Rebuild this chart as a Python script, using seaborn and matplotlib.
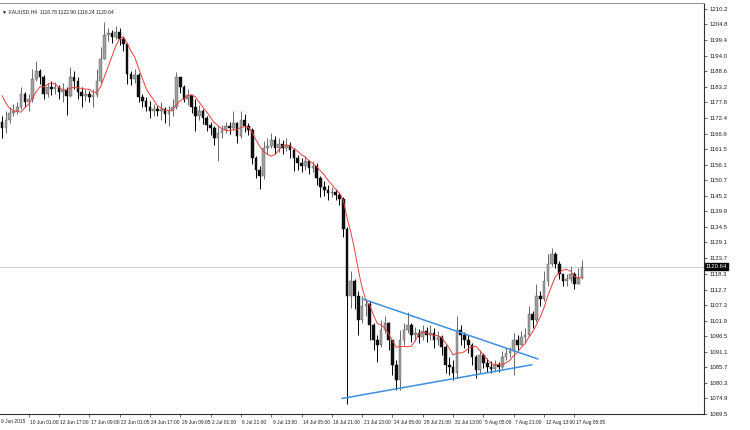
import numpy as np
import pandas as pd
import matplotlib
matplotlib.use('Agg')
import matplotlib.pyplot as plt
import matplotlib.transforms as mtransforms
import seaborn as sns

# XAUUSD H4 candles (each entry here = 2 H4 bars of the screenshot)
close = [
    1168.8, 1171.5, 1173.9, 1174.9, 1176.3, 1180.7, 1178.0, 1179.0, 1185.9, 1188.6,
    1186.6, 1180.7, 1183.1, 1182.5, 1183.1, 1181.4, 1182.1, 1180.1, 1186.6, 1185.2,
    1181.4, 1180.1, 1180.7, 1179.7, 1180.4, 1185.2, 1192.7, 1201.3, 1202.0, 1200.3,
    1202.3, 1199.6, 1197.9, 1187.6, 1185.9, 1187.3, 1179.7, 1178.3, 1176.3, 1174.9,
    1175.3, 1174.6, 1175.6, 1173.6, 1174.9, 1176.3, 1186.6, 1183.1, 1179.0, 1180.4,
    1176.3, 1172.9, 1174.9, 1172.2, 1169.8, 1168.8, 1165.3, 1167.0, 1168.1, 1169.4,
    1168.8, 1170.5, 1166.0, 1171.5, 1169.4, 1168.1, 1158.5, 1154.4, 1152.3, 1161.9,
    1162.6, 1164.6, 1161.9, 1163.3, 1161.9, 1162.9, 1161.2, 1158.5, 1156.8, 1155.7,
    1157.5, 1155.1, 1155.7, 1151.6, 1148.2, 1147.2, 1146.2, 1146.5, 1145.5, 1144.1,
    1133.8, 1110.5, 1115.7, 1110.5, 1102.0, 1107.1, 1107.8, 1100.3, 1095.1, 1093.4,
    1098.6, 1101.0, 1095.1, 1086.6, 1081.4, 1095.1, 1098.6, 1100.3, 1096.8, 1097.5,
    1096.2, 1098.2, 1096.8, 1097.5, 1095.1, 1096.2, 1092.7, 1086.6, 1085.9, 1083.8,
    1098.6, 1096.8, 1095.1, 1093.4, 1089.3, 1084.9, 1090.0, 1087.3, 1085.9, 1085.2,
    1086.6, 1085.9, 1089.3, 1090.7, 1091.4, 1095.1, 1093.4, 1096.2, 1096.8, 1104.4,
    1102.0, 1110.5, 1109.5, 1115.7, 1121.5, 1124.9, 1121.5, 1118.1, 1115.7, 1116.4,
    1118.1, 1114.6, 1116.78, 1120.64]
high = [
    1172.9, 1174.9, 1176.3, 1177.3, 1177.7, 1183.1, 1181.4, 1180.7, 1189.3, 1192.0,
    1189.3, 1187.3, 1184.5, 1185.2, 1184.9, 1183.8, 1184.5, 1183.1, 1190.0, 1188.6,
    1186.6, 1183.1, 1182.5, 1181.8, 1182.5, 1189.3, 1196.8, 1205.7, 1203.7, 1203.0,
    1204.4, 1203.7, 1200.3, 1198.2, 1188.6, 1189.3, 1187.9, 1180.7, 1179.7, 1178.3,
    1177.3, 1176.6, 1177.7, 1176.3, 1176.6, 1179.0, 1188.3, 1185.9, 1183.8, 1182.5,
    1180.4, 1179.0, 1177.0, 1175.6, 1172.9, 1170.8, 1169.4, 1169.4, 1169.8, 1170.8,
    1170.8, 1174.9, 1170.8, 1174.9, 1173.6, 1170.5, 1168.8, 1159.2, 1155.7, 1164.3,
    1165.3, 1167.0, 1166.0, 1165.3, 1164.6, 1165.3, 1164.0, 1161.9, 1159.5, 1158.5,
    1159.2, 1157.8, 1157.5, 1156.8, 1152.3, 1150.6, 1148.9, 1148.2, 1147.5, 1146.5,
    1144.8, 1134.5, 1119.1, 1116.4, 1112.3, 1110.5, 1109.5, 1108.8, 1101.0, 1096.8,
    1102.0, 1103.7, 1101.6, 1095.1, 1088.3, 1098.6, 1101.0, 1105.1, 1101.0, 1099.6,
    1098.9, 1100.3, 1099.6, 1100.3, 1099.2, 1098.2, 1096.8, 1093.4, 1089.3, 1088.3,
    1103.7, 1100.3, 1097.9, 1096.8, 1094.1, 1090.0, 1091.7, 1090.7, 1089.0, 1087.9,
    1088.3, 1087.6, 1091.4, 1092.4, 1092.7, 1097.5, 1096.8, 1098.2, 1099.2, 1107.1,
    1105.4, 1114.6, 1112.3, 1119.1, 1124.9, 1127.0, 1125.6, 1122.5, 1118.1, 1118.1,
    1120.8, 1118.8, 1120.1, 1122.90]
low = [
    1165.3, 1167.0, 1170.5, 1172.9, 1173.6, 1175.6, 1176.3, 1174.9, 1177.7, 1185.2,
    1184.2, 1179.0, 1179.7, 1180.4, 1180.7, 1179.0, 1178.0, 1173.2, 1179.7, 1182.5,
    1179.0, 1176.3, 1178.3, 1177.7, 1176.3, 1179.7, 1184.5, 1192.7, 1198.9, 1198.2,
    1199.6, 1197.5, 1195.5, 1184.2, 1183.8, 1184.5, 1177.7, 1176.3, 1174.6, 1172.2,
    1172.9, 1172.9, 1171.5, 1170.5, 1169.4, 1172.9, 1175.6, 1181.1, 1177.7, 1177.0,
    1173.9, 1167.7, 1171.5, 1170.1, 1167.7, 1166.4, 1162.9, 1157.5, 1165.3, 1167.0,
    1166.7, 1168.1, 1163.6, 1165.3, 1167.4, 1166.4, 1156.4, 1151.6, 1147.5, 1151.0,
    1159.9, 1161.9, 1159.9, 1160.5, 1159.9, 1160.9, 1158.5, 1154.0, 1154.4, 1153.4,
    1154.4, 1153.0, 1153.4, 1148.9, 1144.8, 1145.1, 1143.8, 1144.8, 1143.8, 1142.0,
    1131.1, 1072.9, 1106.4, 1106.1, 1096.8, 1101.0, 1103.7, 1095.1, 1091.7, 1087.6,
    1092.7, 1097.5, 1091.7, 1083.1, 1078.0, 1077.7, 1093.4, 1097.5, 1094.4, 1094.8,
    1094.1, 1095.1, 1094.4, 1095.1, 1092.4, 1093.4, 1090.0, 1083.8, 1083.1, 1081.4,
    1082.1, 1093.4, 1092.4, 1090.7, 1086.6, 1082.1, 1083.8, 1085.5, 1084.2, 1083.8,
    1084.2, 1084.2, 1085.2, 1088.3, 1089.3, 1083.1, 1091.7, 1093.4, 1094.4, 1096.2,
    1099.2, 1101.3, 1107.1, 1108.8, 1114.0, 1120.8, 1120.1, 1116.4, 1114.0, 1114.0,
    1115.3, 1112.9, 1115.7, 1116.24]
first_open = 1171.0
# closes before the visible window, only feed the moving average
lead_in = [1187.0, 1185.4, 1179.5, 1177.7, 1182.2]
ma_period = 6

# trendlines drawn on the chart (bar index, price)
upper_x = [95.0, 141.4]
upper_y = [1109.5, 1088.6]
lower_x = [89.7, 139.8]
lower_y = [1074.9, 1086.6]

price_ticks = [1210.2, 1204.8, 1199.4, 1194.0, 1188.6, 1183.2, 1177.8, 1172.4, 1166.9,
               1161.5, 1156.1, 1150.7, 1145.2, 1139.9, 1134.5, 1129.1, 1123.7, 1118.3,
               1112.7, 1107.3, 1101.9, 1096.5, 1091.1, 1085.7, 1080.3, 1074.9, 1069.5]
time_ticks = [7, 15, 23, 31, 39, 47, 55, 63, 71, 79, 87, 95, 103, 111, 119, 127, 135, 143, 151]
time_labels = ['10 Jun 01:00', '12 Jun 17:00', '17 Jun 09:00', '22 Jun 01:05', '24 Jun 17:00',
               '29 Jun 09:05', '2 Jul 01:00', '6 Jul 21:00', '9 Jul 13:00', '14 Jul 05:00',
               '16 Jul 21:00', '21 Jul 13:00', '24 Jul 05:00', '28 Jul 21:00', '31 Jul 13:00',
               '5 Aug 05:00', '7 Aug 21:00', '12 Aug 13:00', '17 Aug 05:05']
first_label = '9 Jun 2015'
title = 'XAUUSD,H4  1116.78 1122.90 1116.24 1120.64'
last_price = 1120.64

df = pd.DataFrame({'close': close, 'high': high, 'low': low})
df['bar'] = np.arange(len(df))
df['open'] = [first_open] + close[:-1]
df['high'] = df[['high', 'open', 'close']].max(axis=1)
df['low'] = df[['low', 'open', 'close']].min(axis=1)
ma = pd.Series(lead_in + close).rolling(ma_period).mean().iloc[len(lead_in):].values
df['ma'] = ma

sns.set_theme(style='white')
plt.rcParams['font.family'] = ['Liberation Sans', 'DejaVu Sans']

W, H = 750, 430
fig = plt.figure(figsize=(W / 100, H / 100), dpi=100)
top_px, bot_px, right_px = 3, 414, 704
ax = fig.add_axes([0, 1 - bot_px / H, right_px / W, (bot_px - top_px) / H])

px_per_bar = 3.79
x0 = 2.1
ax.set_xlim(-x0 / px_per_bar, (right_px - x0) / px_per_bar)
ppd = 2.92  # pixels per dollar
ax.set_ylim(1210.2 - (bot_px - 9) / ppd, 1210.2 + (9 - top_px) / ppd)

ax.axhline(last_price, color='#c8c8c8', lw=0.6, zorder=0)

up = df['close'] >= df['open']
ax.vlines(df['bar'], df['low'], df['high'],
          colors=np.where(up, '#6a6a6a', '#000000'), lw=0.7, zorder=2)
body_lo = df[['open', 'close']].min(axis=1)
body_h = (df['close'] - df['open']).abs().clip(lower=0.3)
ax.bar(df['bar'], body_h, bottom=body_lo, width=0.7,
       color=np.where(up, '#a0a0a0', '#111111'),
       edgecolor=np.where(up, '#555555', '#000000'), linewidth=0.3, zorder=3)

sns.lineplot(data=df, x='bar', y='ma', color='#e8403c', lw=0.7, ax=ax, zorder=4)
sns.lineplot(x=upper_x, y=upper_y, color='#3d8fe0', lw=1.1, ax=ax, zorder=5)
sns.lineplot(x=lower_x, y=lower_y, color='#3d8fe0', lw=1.1, ax=ax, zorder=5)

# frame
ax.spines['left'].set_visible(False)
ax.spines['right'].set_color('#303030')
ax.spines['right'].set_linewidth(0.8)
ax.spines['bottom'].set_color('#303030')
ax.spines['bottom'].set_linewidth(0.8)
ax.spines['top'].set_color('#9a9a9a')
ax.spines['top'].set_linewidth(0.8)

ax.yaxis.tick_right()
ax.set_yticks(price_ticks)
ax.set_yticklabels(['%.1f' % v for v in price_ticks])
ax.tick_params(axis='y', which='both', right=True, length=2.5, width=0.5,
               color='#303030', labelsize=4.3, pad=1.5, labelcolor='#202020')
ax.set_xticks(time_ticks)
ax.set_xticklabels(time_labels, ha='left')
ax.tick_params(axis='x', bottom=True, length=2.5, width=0.5, color='#303030',
               labelsize=3.5, pad=1.5, labelcolor='#202020')
for lab in ax.get_xticklabels():
    lab.set_transform(lab.get_transform() + mtransforms.ScaledTranslation(1.5 / 100, 0, fig.dpi_scale_trans))
ax.text(0.001, -0.012, first_label, transform=ax.transAxes, ha='left', va='top',
        fontsize=3.5, color='#202020', clip_on=False)
ax.set_xlabel('')
ax.set_ylabel('')

# current price marker on the price scale
ax.text(1.002, last_price, '1120.64', transform=ax.get_yaxis_transform(), ha='left',
        va='center', fontsize=4.3, color='white', clip_on=False,
        bbox=dict(boxstyle='square,pad=0.15', fc='black', ec='black'))

ax.text(0.003, 0.985, '\u25BC ' + title, transform=ax.transAxes, ha='left', va='top',
        fontsize=3.6, color='#202020', family=['Liberation Sans', 'DejaVu Sans'])

fig.savefig('out.png', dpi=100, facecolor='white')
